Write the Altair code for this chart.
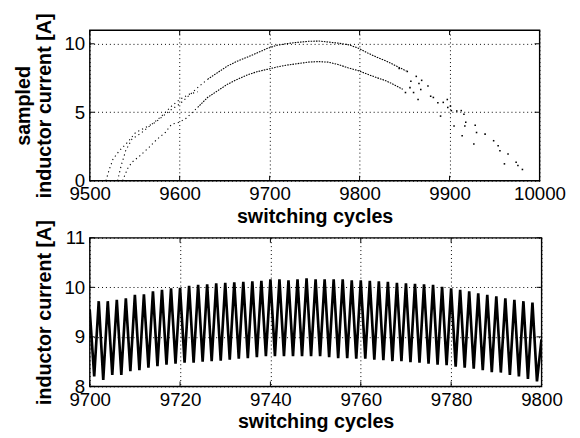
import altair as alt
import pandas as pd

FONT = "Liberation Sans"

# ---------------- top panel: sampled inductor current ----------------
upper_x = [9631, 9642, 9653, 9664, 9675, 9686, 9697, 9708, 9719, 9730, 9743, 9755,
           9765, 9776, 9787, 9798, 9809, 9819, 9830, 9841, 9852]
upper_y = [7.40, 7.89, 8.37, 8.73, 9.02, 9.33, 9.65, 9.89, 10.01, 10.10, 10.18, 10.20,
           10.13, 10.05, 9.94, 9.70, 9.33, 9.02, 8.73, 8.37, 8.01]

lower_x = [9620, 9631, 9642, 9653, 9664, 9675, 9686, 9697, 9708, 9719, 9730, 9743,
           9754, 9765, 9776, 9787, 9798, 9809, 9819, 9830, 9841, 9848]
lower_y = [5.35, 6.08, 6.56, 7.04, 7.40, 7.72, 7.96, 8.13, 8.30, 8.44, 8.54, 8.66,
           8.70, 8.66, 8.49, 8.25, 8.05, 7.77, 7.53, 7.28, 6.92, 6.68]

branch_a_x = [9518, 9522, 9526, 9533, 9542, 9551, 9562, 9573, 9584, 9591, 9600, 9610, 9620, 9631]
branch_a_y = [0.0, 0.87, 1.59, 2.19, 2.80, 3.52, 3.89, 4.25, 4.85, 5.21, 5.60, 6.20, 6.80, 7.40]
branch_b_x = [9531, 9535, 9540, 9547, 9558, 9569, 9580, 9591, 9600, 9610, 9620]
branch_b_y = [0.0, 1.11, 2.19, 3.04, 3.52, 4.12, 4.72, 5.45, 5.93, 6.30, 6.50]
branch_c_x = [9536.5, 9542, 9547, 9556, 9566, 9575, 9584, 9591, 9598.5, 9606, 9620]
branch_c_y = [0.0, 0.87, 1.35, 1.83, 2.44, 3.04, 3.52, 4.12, 4.25, 4.49, 5.35]

scatter_x = [9844, 9853, 9857, 9863, 9866, 9868, 9865, 9856, 9851, 9860, 9869, 9876, 9879,
             9882, 9887, 9890, 9893, 9897.5, 9898, 9901, 9902, 9905, 9908, 9913, 9914, 9916,
             9917, 9918, 9927, 9928.5, 9930, 9939.5, 9949, 9954, 9956, 9961, 9965, 9974,
             9976, 9981]
scatter_y = [8.20, 7.98, 7.26, 7.62, 7.10, 6.66, 5.93, 6.80, 6.44, 6.44, 7.33, 6.92, 6.17,
             6.08, 5.69, 4.72, 5.72, 5.93, 5.35, 5.45, 5.12, 4.00, 5.09, 5.12, 3.28, 4.85,
             4.00, 4.27, 2.68, 4.05, 3.52, 3.40, 2.92, 2.55, 2.19, 1.23, 1.95, 1.35,
             1.11, 0.82]

top_xticks = [9500, 9600, 9700, 9800, 9900, 10000]
top_yticks = [0, 5, 10]

# ---------------- bottom panel: inductor current waveform ----------------
wave_x = [9700, 9701, 9702, 9703, 9704, 9705, 9706, 9707, 9708, 9709, 9710,
          9711, 9712, 9713, 9714, 9715, 9716, 9717, 9718, 9719, 9720,
          9721, 9722, 9723, 9724, 9725, 9726, 9727, 9728, 9729, 9730,
          9731, 9732, 9733, 9734, 9735, 9736, 9737, 9738, 9739, 9740,
          9741, 9742, 9743, 9744, 9745, 9746, 9747, 9748, 9749, 9750,
          9751, 9752, 9753, 9754, 9755, 9756, 9757, 9758, 9759, 9760,
          9761, 9762, 9763, 9764, 9765, 9766, 9767, 9768, 9769, 9770,
          9771, 9772, 9773, 9774, 9775, 9776, 9777, 9778, 9779, 9780,
          9781, 9782, 9783, 9784, 9785, 9786, 9787, 9788, 9789, 9790,
          9791, 9792, 9793, 9794, 9795, 9796, 9797, 9798, 9799, 9800]
wave_y = [9.55, 8.20, 9.72, 8.13, 9.72, 8.23, 9.75, 8.23, 9.78, 8.31, 9.85,
          8.33, 9.86, 8.38, 9.92, 8.41, 9.95, 8.44, 9.98, 8.46, 9.99,
          8.48, 10.03, 8.48, 10.05, 8.50, 10.06, 8.51, 10.08, 8.52, 10.09,
          8.54, 10.10, 8.56, 10.11, 8.57, 10.12, 8.59, 10.13, 8.61, 10.16,
          8.61, 10.16, 8.61, 10.14, 8.61, 10.16, 8.61, 10.18, 8.61, 10.16,
          8.61, 10.16, 8.59, 10.16, 8.57, 10.16, 8.57, 10.14, 8.56, 10.14,
          8.56, 10.13, 8.54, 10.12, 8.53, 10.11, 8.51, 10.09, 8.51, 10.08,
          8.49, 10.07, 8.48, 10.06, 8.46, 10.05, 8.44, 10.01, 8.43, 9.98,
          8.40, 9.95, 8.38, 9.92, 8.36, 9.88, 8.33, 9.85, 8.29, 9.82,
          8.28, 9.78, 8.23, 9.75, 8.20, 9.72, 8.15, 9.69, 8.10, 8.95]

bot_xticks = [9700, 9720, 9740, 9760, 9780, 9800]
bot_yticks = [8, 9, 10, 11]

TOP_W, TOP_H = 457, 153
BOT_W, BOT_H = 459, 151
TICK = 5


def xdef(domain, ticks, title):
    return alt.X("x:Q", scale=alt.Scale(domain=domain, nice=False, zero=False),
                 axis=alt.Axis(values=ticks, title=title, format="d", grid=True, ticks=False,
                               domain=False, labelFlush=False, labelPadding=4, titlePadding=3,
                               labelFont=FONT, labelFontSize=19, labelColor="black",
                               titleFont=FONT, titleFontSize=20, titleFontWeight="bold",
                               titleColor="black", gridColor="black", gridDash=[1, 3],
                               gridWidth=1, gridOpacity=1))


def ydef(domain, ticks, title):
    return alt.Y("y:Q", scale=alt.Scale(domain=domain, nice=False, zero=False),
                 axis=alt.Axis(values=ticks, title=title, format="d", grid=True, ticks=False,
                               domain=False, labelPadding=5, titlePadding=10,
                               labelFont=FONT, labelFontSize=19, labelColor="black",
                               titleFont=FONT, titleFontSize=20, titleFontWeight="bold",
                               titleColor="black", titleLineHeight=21,
                               gridColor="black", gridDash=[1, 3],
                               gridWidth=1, gridOpacity=1))


def tick_layers(X, Y, xt, yt, W, H):
    xdf = pd.DataFrame({"x": xt})
    ydf = pd.DataFrame({"y": yt})
    r = dict(color="black", strokeWidth=1)
    return [
        alt.Chart(xdf).mark_rule(**r).encode(x=X, y=alt.value(H), y2=alt.value(H - TICK)),
        alt.Chart(xdf).mark_rule(**r).encode(x=X, y=alt.value(0), y2=alt.value(TICK)),
        alt.Chart(ydf).mark_rule(**r).encode(y=Y, x=alt.value(0), x2=alt.value(TICK)),
        alt.Chart(ydf).mark_rule(**r).encode(y=Y, x=alt.value(W), x2=alt.value(W - TICK)),
    ]


# top panel
Xt = xdef([9500, 10000], top_xticks, "switching cycles")
Yt = ydef([0, 11], top_yticks, ["sampled", "inductor current [A]"])

main_df = pd.concat([
    pd.DataFrame({"x": upper_x, "y": upper_y, "s": "upper"}),
    pd.DataFrame({"x": lower_x, "y": lower_y, "s": "lower"}),
])
early_df = pd.concat([
    pd.DataFrame({"x": branch_a_x, "y": branch_a_y, "s": "a"}),
    pd.DataFrame({"x": branch_b_x, "y": branch_b_y, "s": "b"}),
    pd.DataFrame({"x": branch_c_x, "y": branch_c_y, "s": "c"}),
])
scat_df = pd.DataFrame({"x": scatter_x, "y": scatter_y})

top_main = alt.Chart(main_df).mark_line(color="black", strokeWidth=1.1,
                                        strokeDash=[1.6, 1.1]).encode(
    x=Xt, y=Yt, detail="s:N", order="x:Q")
top_early = alt.Chart(early_df).mark_line(color="black", strokeWidth=1.1,
                                          strokeDash=[1.2, 3.2]).encode(
    x=Xt, y=Yt, detail="s:N", order="x:Q")
top_scat = alt.Chart(scat_df).mark_square(color="black", size=2.5, opacity=1).encode(x=Xt, y=Yt)

top = alt.layer(top_main, top_early, top_scat,
                *tick_layers(Xt, Yt, top_xticks, top_yticks, TOP_W, TOP_H)).properties(
    width=TOP_W, height=TOP_H)

# bottom panel
Xb = xdef([9700, 9800], bot_xticks, "switching cycles")
Yb = ydef([8, 11], bot_yticks, "inductor current [A]")
wave_df = pd.DataFrame({"x": wave_x, "y": wave_y})
bot_wave = alt.Chart(wave_df).mark_line(color="black", strokeWidth=2.7, clip=True).encode(
    x=Xb, y=Yb, order="x:Q")
bottom = alt.layer(bot_wave,
                   *tick_layers(Xb, Yb, bot_xticks, bot_yticks, BOT_W, BOT_H)).properties(
    width=BOT_W, height=BOT_H)

chart = alt.vconcat(top, bottom, spacing=58, bounds="flush").configure_view(
    stroke="black", strokeWidth=1.4
).properties(
    padding={"left": 5, "top": 0, "right": 5, "bottom": 5},
    background="white",
)

chart.save("out.html", embed_options={"renderer": "svg", "actions": False})
